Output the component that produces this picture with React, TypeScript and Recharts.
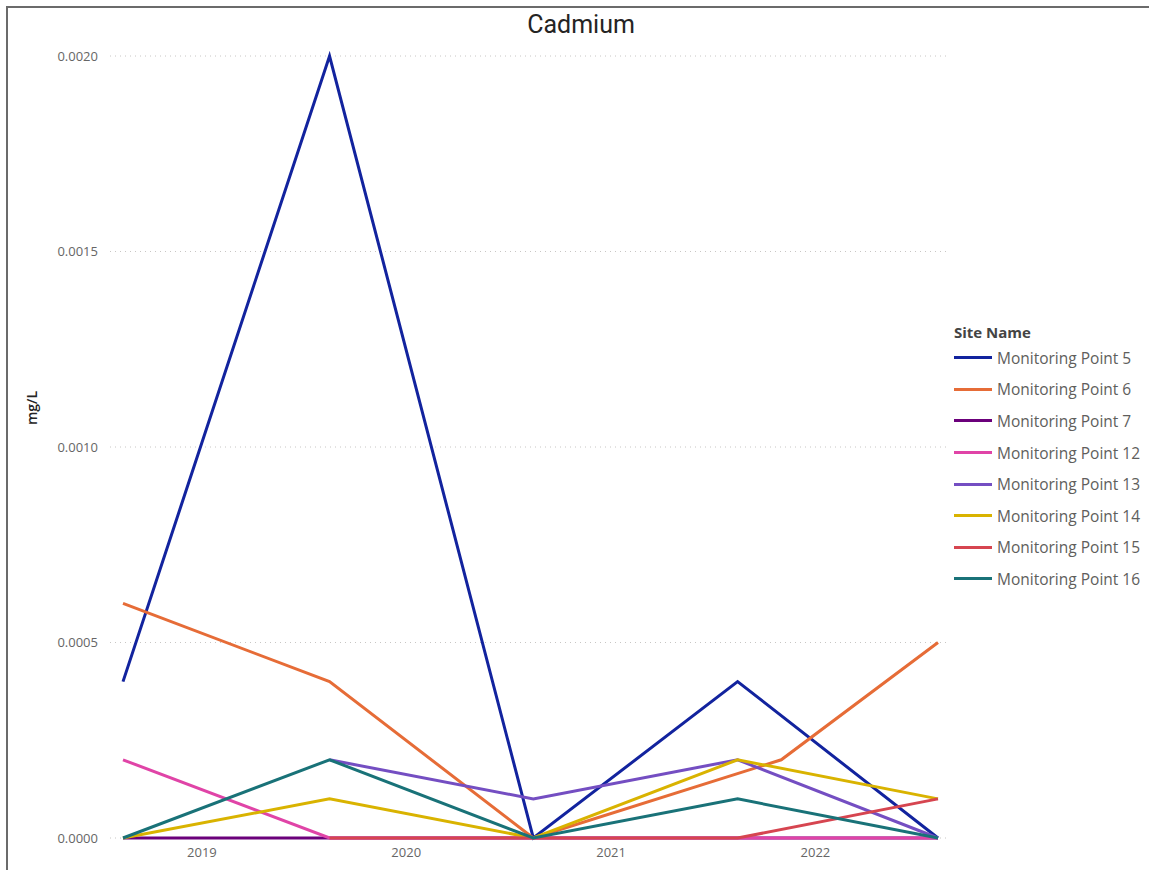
import React from "react";
import {
  CartesianGrid,
  Legend,
  Line,
  LineChart,
  XAxis,
  YAxis,
} from "recharts";

// sampling dates (one extra autumn visit in 2021 for MP6)
const sampleDates = [
  "2018-08-13",
  "2019-08-17",
  "2020-08-15",
  "2021-08-15",
  "2021-11-01",
  "2022-08-08",
];

const mp5 = [0.0004, 0.002, 0, 0.0004, null, 0];
const mp6 = [0.0006, 0.0004, 0, null, 0.0002, 0.0005];
const mp7 = [0, 0, 0, 0, null, 0];
const mp12 = [0.0002, 0, 0, 0, null, 0];
const mp13 = [null, 0.0002, 0.0001, 0.0002, null, 0];
const mp14 = [0, 0.0001, 0, 0.0002, null, 0.0001];
const mp15 = [null, 0, 0, 0, null, 0.0001];
const mp16 = [0, 0.0002, 0, 0.0001, null, 0];

const yearTicks = [2019, 2020, 2021, 2022];
const yTicks = [0, 0.0005, 0.001, 0.0015, 0.002];

const series = [
  { key: "mp5", name: "Monitoring Point 5", color: "#12239E", values: mp5 },
  { key: "mp6", name: "Monitoring Point 6", color: "#E66C37", values: mp6 },
  { key: "mp7", name: "Monitoring Point 7", color: "#6B007B", values: mp7 },
  { key: "mp12", name: "Monitoring Point 12", color: "#E044A7", values: mp12 },
  { key: "mp13", name: "Monitoring Point 13", color: "#744EC2", values: mp13 },
  { key: "mp14", name: "Monitoring Point 14", color: "#D9B300", values: mp14 },
  { key: "mp15", name: "Monitoring Point 15", color: "#D64550", values: mp15 },
  { key: "mp16", name: "Monitoring Point 16", color: "#197278", values: mp16 },
];

const data = sampleDates.map((d, i) => {
  const row: Record<string, number | null> = { t: Date.parse(d + "T00:00:00Z") };
  series.forEach((s) => {
    row[s.key] = s.values[i];
  });
  return row;
});

const FONT = "'Open Sans', 'Noto Sans', sans-serif";

// legend keeps the series order instead of Recharts' alphabetical sort
function SiteLegend() {
  return (
    <div style={{ fontFamily: FONT }}>
      <div
        style={{
          fontSize: 15,
          fontWeight: 700,
          color: "#444",
          height: 20,
          lineHeight: "20px",
        }}
      >
        Site Name
      </div>
      {series.map((s) => (
        <div
          key={s.key}
          style={{
            display: "flex",
            alignItems: "center",
            height: 31.6,
          }}
        >
          <span
            style={{
              display: "inline-block",
              width: 38,
              height: 3,
              background: s.color,
              marginRight: 5,
            }}
          />
          <span style={{ fontSize: 15.5, color: "#605E5C" }}>{s.name}</span>
        </div>
      ))}
    </div>
  );
}

export default function App() {
  return (
    <div
      style={{
        position: "absolute",
        left: 6,
        top: 6,
        width: 1150,
        height: 870,
        borderLeft: "2px solid #6b6b6b",
        borderTop: "2px solid #6b6b6b",
        background: "#fff",
      }}
    >
      <div
        style={{
          position: "absolute",
          left: 0,
          top: 2,
          width: 1150,
          textAlign: "center",
          fontFamily: "Roboto, 'Noto Sans', sans-serif",
          fontSize: 25,
          fontWeight: 400,
          color: "#252423",
          lineHeight: "30px",
          paddingRight: 4,
          boxSizing: "border-box",
        }}
      >
        Cadmium
      </div>
      <LineChart
        width={1141}
        height={862}
        data={data}
        margin={{ top: 48, right: 199, bottom: 0, left: 0 }}
      >
        <CartesianGrid
          horizontal
          vertical={false}
          stroke="#c8c6c4"
          strokeDasharray="1 4"
        />
        <XAxis
          dataKey="t"
          type="number"
          domain={["dataMin", "dataMax"]}
          ticks={yearTicks.map((y) => Date.UTC(y, 0, 1))}
          tickFormatter={(v) => String(new Date(v).getUTCFullYear())}
          padding={{ left: 13, right: 12 }}
          axisLine={false}
          tickLine={false}
          tickSize={0}
          tickMargin={10}
          height={32}
          tick={{ fill: "#666", fontSize: 13, fontFamily: FONT }}
        />
        <YAxis
          domain={[0, 0.002]}
          ticks={yTicks}
          tickFormatter={(v) => Number(v).toFixed(4)}
          axisLine={false}
          tickLine={false}
          tickSize={0}
          tickMargin={12}
          width={102}
          tick={{ fill: "#666", fontSize: 13, fontFamily: FONT }}
          label={() => (
            <text
              x={0}
              y={0}
              transform="translate(23 400) rotate(-90)"
              textAnchor="middle"
              dominantBaseline="central"
              fontFamily={FONT}
              fontSize={14}
              fontWeight={600}
              fill="#252423"
            >
              mg/L
            </text>
          )}
        />
        <Legend
          layout="vertical"
          align="center"
          verticalAlign="middle"
          wrapperStyle={{ left: 946, top: 314, width: 195 }}
          content={<SiteLegend />}
        />
        {series.map((s) => (
          <Line
            key={s.key}
            dataKey={s.key}
            name={s.name}
            stroke={s.color}
            strokeWidth={3}
            dot={false}
            activeDot={false}
            connectNulls
            type="linear"
            isAnimationActive={false}
          />
        ))}
      </LineChart>
    </div>
  );
}
